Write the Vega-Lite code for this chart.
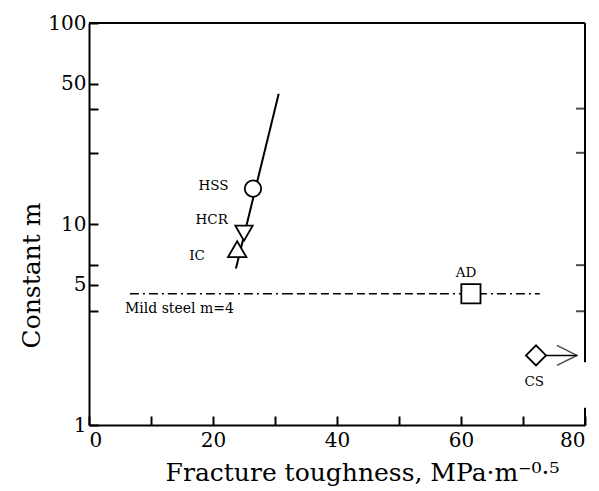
{
  "$schema": "https://vega.github.io/schema/vega-lite/v6.json",
  "width": 496,
  "height": 402,
  "autosize": "none",
  "padding": {"left": 89, "top": 23, "right": 14, "bottom": 66},
  "background": "white",
  "config": {
    "view": {"stroke": null},
    "font": "DejaVu Serif",
    "axis": {"grid": false, "domainColor": "black", "tickColor": "black", "labelColor": "black", "titleColor": "black", "labelFont": "DejaVu Serif", "titleFont": "DejaVu Serif", "titleFontWeight": "normal", "domainWidth": 2, "tickWidth": 2}
  },
  "layer": [
    {
      "data": {"values": [{"y1": 1, "y2": 1.22}, {"y1": 2.05, "y2": 100}]},
      "mark": {"type": "rule", "strokeWidth": 2, "color": "black"},
      "encoding": {
        "x": {"datum": 80, "type": "quantitative", "scale": {"domain": [0, 80], "nice": false}},
        "y": {"field": "y1", "type": "quantitative", "scale": {"type": "log", "domain": [1, 100], "nice": false}},
        "y2": {"field": "y2"}
      }
    },
    {
      "data": {"values": [{"k": 23.7, "m": 6.0}, {"k": 30.6, "m": 44.5}]},
      "mark": {"type": "line", "color": "black", "strokeWidth": 2},
      "encoding": {
        "x": {"field": "k", "type": "quantitative", "scale": {"domain": [0, 80], "nice": false},
          "axis": {"values": [0, 10, 20, 30, 40, 50, 60, 70, 80], "labelExpr": "datum.value % 20 == 0 ? datum.label : ''", "tickSize": -9, "labelPadding": 14, "labelFontSize": 20, "title": "Fracture toughness, MPa·m⁻⁰·⁵", "titleFontSize": 25, "titlePadding": 10, "titleX": 273}},
        "y": {"field": "m", "type": "quantitative", "scale": {"type": "log", "domain": [1, 100], "nice": false},
          "axis": {"values": [1, 3.68, 5, 6.24, 10, 22.6, 37.5, 50, 100], "labelExpr": "indexof([1,5,10,50,100], datum.value) >= 0 ? datum.label : ''", "format": "~g", "tickSize": -9, "labelPadding": 12, "labelFontSize": 20, "title": "Constant m", "titleFontSize": 25, "titlePadding": 3, "titleY": 252}}
      }
    },
    {
      "data": {"values": [
        {"a": 6.6, "b": 31.6, "m": 4.5, "style": "dashdot"},
        {"a": 31.6, "b": 56.6, "m": 4.5, "style": "dash"},
        {"a": 56.6, "b": 72.7, "m": 4.5, "style": "dashdot"}
      ]},
      "mark": {"type": "rule", "color": "black", "strokeWidth": 1.5},
      "encoding": {
        "x": {"field": "a", "type": "quantitative"},
        "x2": {"field": "b"},
        "y": {"field": "m", "type": "quantitative"},
        "strokeDash": {"field": "style", "type": "nominal", "scale": {"domain": ["dashdot", "dash"], "range": [[9, 4, 2, 4], [8, 4]]}, "legend": null}
      }
    },
    {
      "data": {"values": [{"a": 72.1, "b": 78.7, "m": 2.22}]},
      "mark": {"type": "rule", "color": "black", "strokeWidth": 1.5},
      "encoding": {
        "x": {"field": "a", "type": "quantitative"},
        "x2": {"field": "b"},
        "y": {"field": "m", "type": "quantitative"}
      }
    },
    {
      "data": {"values": [{"k": 78.7, "m": 2.22}]},
      "mark": {"type": "point", "shape": "M-1,-0.5L0,0L-1,0.5", "filled": false, "color": "black", "strokeWidth": 1.5, "size": 1600},
      "encoding": {
        "x": {"field": "k", "type": "quantitative"},
        "y": {"field": "m", "type": "quantitative"}
      }
    },
    {
      "data": {"values": [
        {"name": "HSS", "k": 26.45, "m": 15.0},
        {"name": "HCR", "k": 25.0, "m": 9.0},
        {"name": "IC", "k": 23.9, "m": 7.5},
        {"name": "AD", "k": 61.6, "m": 4.5},
        {"name": "CS", "k": 72.1, "m": 2.22}
      ]},
      "mark": {"type": "point", "filled": true, "fill": "white", "stroke": "black", "strokeWidth": 1.8, "opacity": 1},
      "encoding": {
        "x": {"field": "k", "type": "quantitative"},
        "y": {"field": "m", "type": "quantitative"},
        "shape": {"field": "name", "type": "nominal", "scale": {"domain": ["HSS", "HCR", "IC", "AD", "CS"], "range": ["circle", "triangle-down", "triangle-up", "square", "diamond"]}, "legend": null},
        "size": {"field": "name", "type": "nominal", "scale": {"domain": ["HSS", "HCR", "IC", "AD", "CS"], "range": [270, 400, 400, 190, 300]}, "legend": null}
      }
    },
    {
      "data": {"values": [
        {"t": "HSS", "k": 22.5, "m": 15.5},
        {"t": "HCR", "k": 22.4, "m": 10.5},
        {"t": "IC", "k": 18.7, "m": 6.9}
      ]},
      "mark": {"type": "text", "align": "right", "baseline": "middle", "fontSize": 13.5, "color": "black"},
      "encoding": {
        "x": {"field": "k", "type": "quantitative"},
        "y": {"field": "m", "type": "quantitative"},
        "text": {"field": "t"}
      }
    },
    {
      "data": {"values": [{"t": "Mild steel m=4", "k": 5.8, "m": 3.77}]},
      "mark": {"type": "text", "align": "left", "baseline": "middle", "fontSize": 14, "color": "black"},
      "encoding": {
        "x": {"field": "k", "type": "quantitative"},
        "y": {"field": "m", "type": "quantitative"},
        "text": {"field": "t"}
      }
    },
    {
      "data": {"values": [
        {"t": "AD", "k": 60.8, "m": 5.7},
        {"t": "CS", "k": 71.8, "m": 1.63}
      ]},
      "mark": {"type": "text", "align": "center", "baseline": "middle", "fontSize": 13.5, "color": "black"},
      "encoding": {
        "x": {"field": "k", "type": "quantitative"},
        "y": {"field": "m", "type": "quantitative"},
        "text": {"field": "t"}
      }
    },
    {
      "data": {"values": [{"k": 40, "m": 100}]},
      "mark": {"type": "rule", "color": "black", "strokeWidth": 2},
      "encoding": {
        "x": {"datum": 0, "type": "quantitative"},
        "x2": {"datum": 80},
        "y": {"field": "m", "type": "quantitative"}
      }
    },
    {
      "data": {"values": [{"m": 3.68}, {"m": 6.24}, {"m": 22.6}, {"m": 37.5}]},
      "mark": {"type": "tick", "color": "black", "orient": "horizontal", "thickness": 2, "size": 9, "xOffset": -4.5},
      "encoding": {
        "x": {"datum": 80, "type": "quantitative"},
        "y": {"field": "m", "type": "quantitative"}
      }
    }
  ]
}
